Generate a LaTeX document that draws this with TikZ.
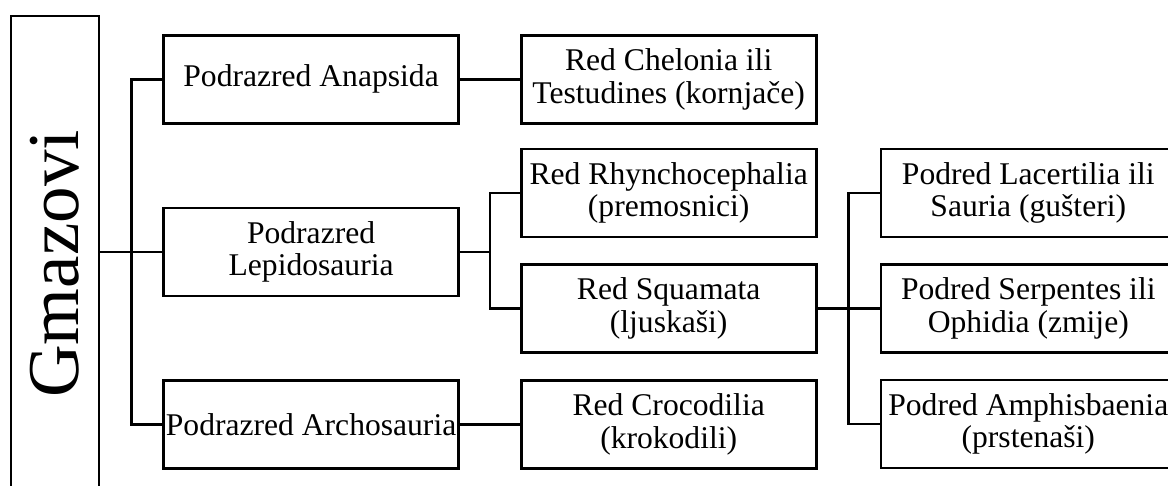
\documentclass[tikz,border=0pt]{standalone}
\usepackage{fontspec}
\setmainfont{Liberation Serif}
\usepackage{tikz}
\usetikzlibrary{positioning, calc}

\begin{document}
\begin{tikzpicture}[x=1pt, y=1pt, line width=2.6pt,
	taxon/.style={draw, rectangle, minimum width=295pt, minimum height=88pt, inner sep=1pt, align=center, font=\fontsize{31.6}{32.5}\selectfont}]
	
	\useasboundingbox (0,0) rectangle (1168,-486);
	\clip (0,0) rectangle (1168,-486);
	
	% Define nodes
	\node [draw, rectangle, minimum width=88pt, minimum height=472pt, inner sep=0pt] (gmazovi) at (55,-252) {\rotatebox{90}{\fontsize{73}{73}\selectfont Gmazovi\hspace*{24pt}}};
	\node [taxon, right=62pt of gmazovi] (lepido) {Podrazred \\ Lepidosauria};
	\node [taxon, above=82pt of lepido] (anapsida) {Podrazred Anapsida};
	\node [taxon, below=82pt of lepido] (archo) {Podrazred Archosauria};
	
	\node [taxon, right=60pt of anapsida] (chelonia) {Red Chelonia ili \\ Testudines (kornjače)};
	\node [taxon, right=60pt of lepido, yshift=-56.5pt] (squamata) {Red Squamata \\ (ljuskaši)};
	\node [taxon, above=25pt of squamata] (rhyncho) {Red Rhynchocephalia \\ (premosnici)};
	\node [taxon, right=60pt of archo] (crocodilia) {Red Crocodilia \\ (krokodili)};
	
	\node [taxon, right=62pt of squamata] (serpentes) {Podred Serpentes ili \\ Ophidia (zmije)};
	\node [taxon, above=25pt of serpentes] (lacertilia) {Podred Lacertilia ili \\ Sauria (gušteri)};
	\node [taxon, below=25pt of serpentes] (amphis) {Podred Amphisbaenia \\ (prstenaši)};
	
	% Forks
	\coordinate (trunk) at ($(gmazovi.east)!0.5!(lepido.west)$);
	\coordinate (lepfork) at ($(lepido.east)!0.5!(lepido.east -| rhyncho.west)$);
	\coordinate (sqfork) at ($(squamata.east)!0.5!(serpentes.west)$);
	
	% Connectors
	\draw (gmazovi.east) -- (lepido.west);
	\draw (anapsida.west) -| (trunk) |- (archo.west);
	\draw (anapsida.east) -- (chelonia.west);
	\draw (archo.east) -- (crocodilia.west);
	\draw (lepido.east) -- (lepfork);
	\draw (rhyncho.west) -| (lepfork) |- (squamata.west);
	\draw (squamata.east) -- (serpentes.west);
	\draw (lacertilia.west) -| (sqfork) |- (amphis.west);
	
\end{tikzpicture}
\end{document}
